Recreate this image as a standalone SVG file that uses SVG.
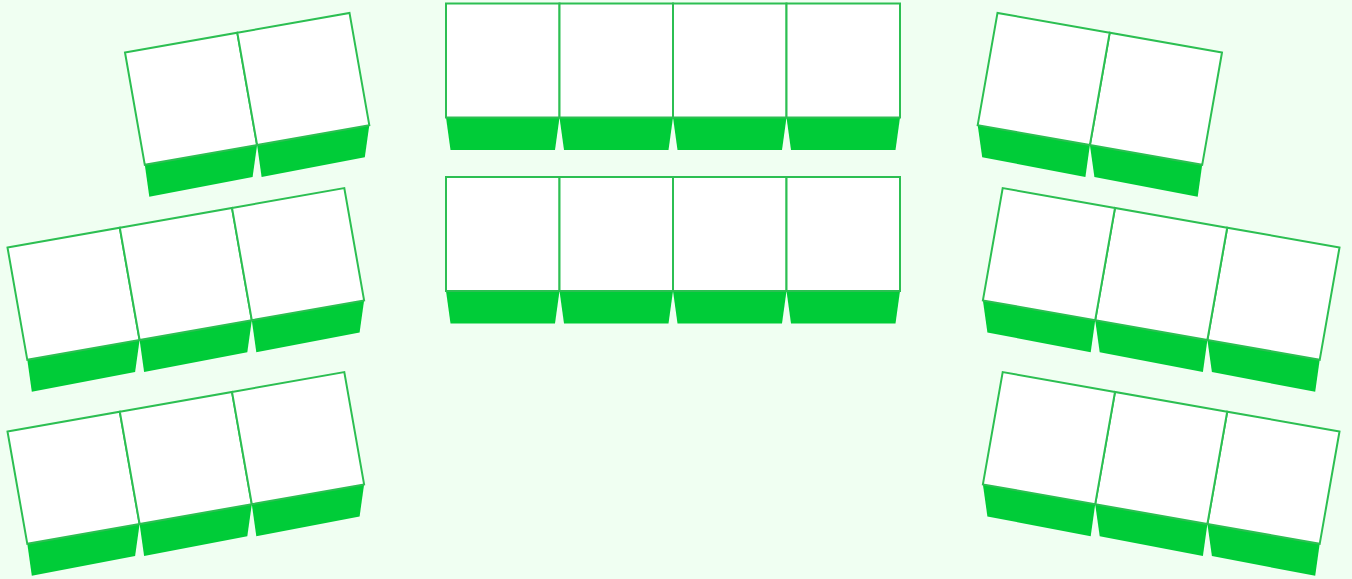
<svg xmlns="http://www.w3.org/2000/svg" width="1352" height="579" viewBox="0 0 1352 579">
<style>
.desk{fill:#ffffff;stroke:#2cbf52;stroke-width:2;stroke-linejoin:miter}
.seat{fill:#00cc38;stroke:none}
</style>
<rect x="0" y="0" width="1352" height="579" fill="#f0fff2"/>
<g id="center-row-1">
  <g id="c1-d1"><polygon class="seat" points="446,117.5 559.5,117.5 555,150 450.5,150"/><rect class="desk" x="446" y="3.5" width="113.5" height="114"/></g>
  <g id="c1-d2"><polygon class="seat" points="559.5,117.5 673,117.5 668.5,150 564,150"/><rect class="desk" x="559.5" y="3.5" width="113.5" height="114"/></g>
  <g id="c1-d3"><polygon class="seat" points="673,117.5 786.5,117.5 782,150 677.5,150"/><rect class="desk" x="673" y="3.5" width="113.5" height="114"/></g>
  <g id="c1-d4"><polygon class="seat" points="786.5,117.5 900,117.5 895.5,150 791,150"/><rect class="desk" x="786.5" y="3.5" width="113.5" height="114"/></g>
</g>
<g id="center-row-2">
  <g id="c2-d1"><polygon class="seat" points="446,291 559.5,291 555,323.5 450.5,323.5"/><rect class="desk" x="446" y="177" width="113.5" height="114"/></g>
  <g id="c2-d2"><polygon class="seat" points="559.5,291 673,291 668.5,323.5 564,323.5"/><rect class="desk" x="559.5" y="177" width="113.5" height="114"/></g>
  <g id="c2-d3"><polygon class="seat" points="673,291 786.5,291 782,323.5 677.5,323.5"/><rect class="desk" x="673" y="177" width="113.5" height="114"/></g>
  <g id="c2-d4"><polygon class="seat" points="786.5,291 900,291 895.5,323.5 791,323.5"/><rect class="desk" x="786.5" y="177" width="113.5" height="114"/></g>
</g>
<g id="left-top">
  <g id="lt-d1"><polygon class="seat" points="144.8,164.8 257.1,145 252.6,177 149.3,196.8"/><polygon class="desk" points="125,52.5 237.3,32.7 257.1,145 144.8,164.8"/></g>
  <g id="lt-d2"><polygon class="seat" points="257.1,145 369.3,125.2 364.8,157.2 261.6,177"/><polygon class="desk" points="237.3,32.7 349.5,12.9 369.3,125.2 257.1,145"/></g>
</g>
<g id="left-mid">
  <g id="lm-d1"><polygon class="seat" points="27.3,359.8 139.6,340 135.1,372 31.8,391.8"/><polygon class="desk" points="7.5,247.5 119.8,227.7 139.6,340 27.3,359.8"/></g>
  <g id="lm-d2"><polygon class="seat" points="139.6,340 251.8,320.2 247.3,352.2 144.1,372"/><polygon class="desk" points="119.8,227.7 232,207.9 251.8,320.2 139.6,340"/></g>
  <g id="lm-d3"><polygon class="seat" points="251.8,320.2 364.1,300.4 359.6,332.4 256.3,352.2"/><polygon class="desk" points="232,207.9 344.3,188.1 364.1,300.4 251.8,320.2"/></g>
</g>
<g id="left-bottom">
  <g id="lb-d1"><polygon class="seat" points="27.3,543.8 139.6,524 135.1,556 31.8,575.8"/><polygon class="desk" points="7.5,431.5 119.8,411.7 139.6,524 27.3,543.8"/></g>
  <g id="lb-d2"><polygon class="seat" points="139.6,524 251.8,504.2 247.3,536.2 144.1,556"/><polygon class="desk" points="119.8,411.7 232,391.9 251.8,504.2 139.6,524"/></g>
  <g id="lb-d3"><polygon class="seat" points="251.8,504.2 364.1,484.4 359.6,516.4 256.3,536.2"/><polygon class="desk" points="232,391.9 344.3,372.1 364.1,484.4 251.8,504.2"/></g>
</g>
<g id="right-top" transform="translate(1347,0) scale(-1,1)">
  <g id="rt-d2"><polygon class="seat" points="144.8,164.8 257.1,145 252.6,177 149.3,196.8"/><polygon class="desk" points="125,52.5 237.3,32.7 257.1,145 144.8,164.8"/></g>
  <g id="rt-d1"><polygon class="seat" points="257.1,145 369.3,125.2 364.8,157.2 261.6,177"/><polygon class="desk" points="237.3,32.7 349.5,12.9 369.3,125.2 257.1,145"/></g>
</g>
<g id="right-mid" transform="translate(1347,0) scale(-1,1)">
  <g id="rm-d3"><polygon class="seat" points="27.3,359.8 139.6,340 135.1,372 31.8,391.8"/><polygon class="desk" points="7.5,247.5 119.8,227.7 139.6,340 27.3,359.8"/></g>
  <g id="rm-d2"><polygon class="seat" points="139.6,340 251.8,320.2 247.3,352.2 144.1,372"/><polygon class="desk" points="119.8,227.7 232,207.9 251.8,320.2 139.6,340"/></g>
  <g id="rm-d1"><polygon class="seat" points="251.8,320.2 364.1,300.4 359.6,332.4 256.3,352.2"/><polygon class="desk" points="232,207.9 344.3,188.1 364.1,300.4 251.8,320.2"/></g>
</g>
<g id="right-bottom" transform="translate(1347,0) scale(-1,1)">
  <g id="rb-d3"><polygon class="seat" points="27.3,543.8 139.6,524 135.1,556 31.8,575.8"/><polygon class="desk" points="7.5,431.5 119.8,411.7 139.6,524 27.3,543.8"/></g>
  <g id="rb-d2"><polygon class="seat" points="139.6,524 251.8,504.2 247.3,536.2 144.1,556"/><polygon class="desk" points="119.8,411.7 232,391.9 251.8,504.2 139.6,524"/></g>
  <g id="rb-d1"><polygon class="seat" points="251.8,504.2 364.1,484.4 359.6,516.4 256.3,536.2"/><polygon class="desk" points="232,391.9 344.3,372.1 364.1,484.4 251.8,504.2"/></g>
</g>
<g id="connectors"/>
</svg>
